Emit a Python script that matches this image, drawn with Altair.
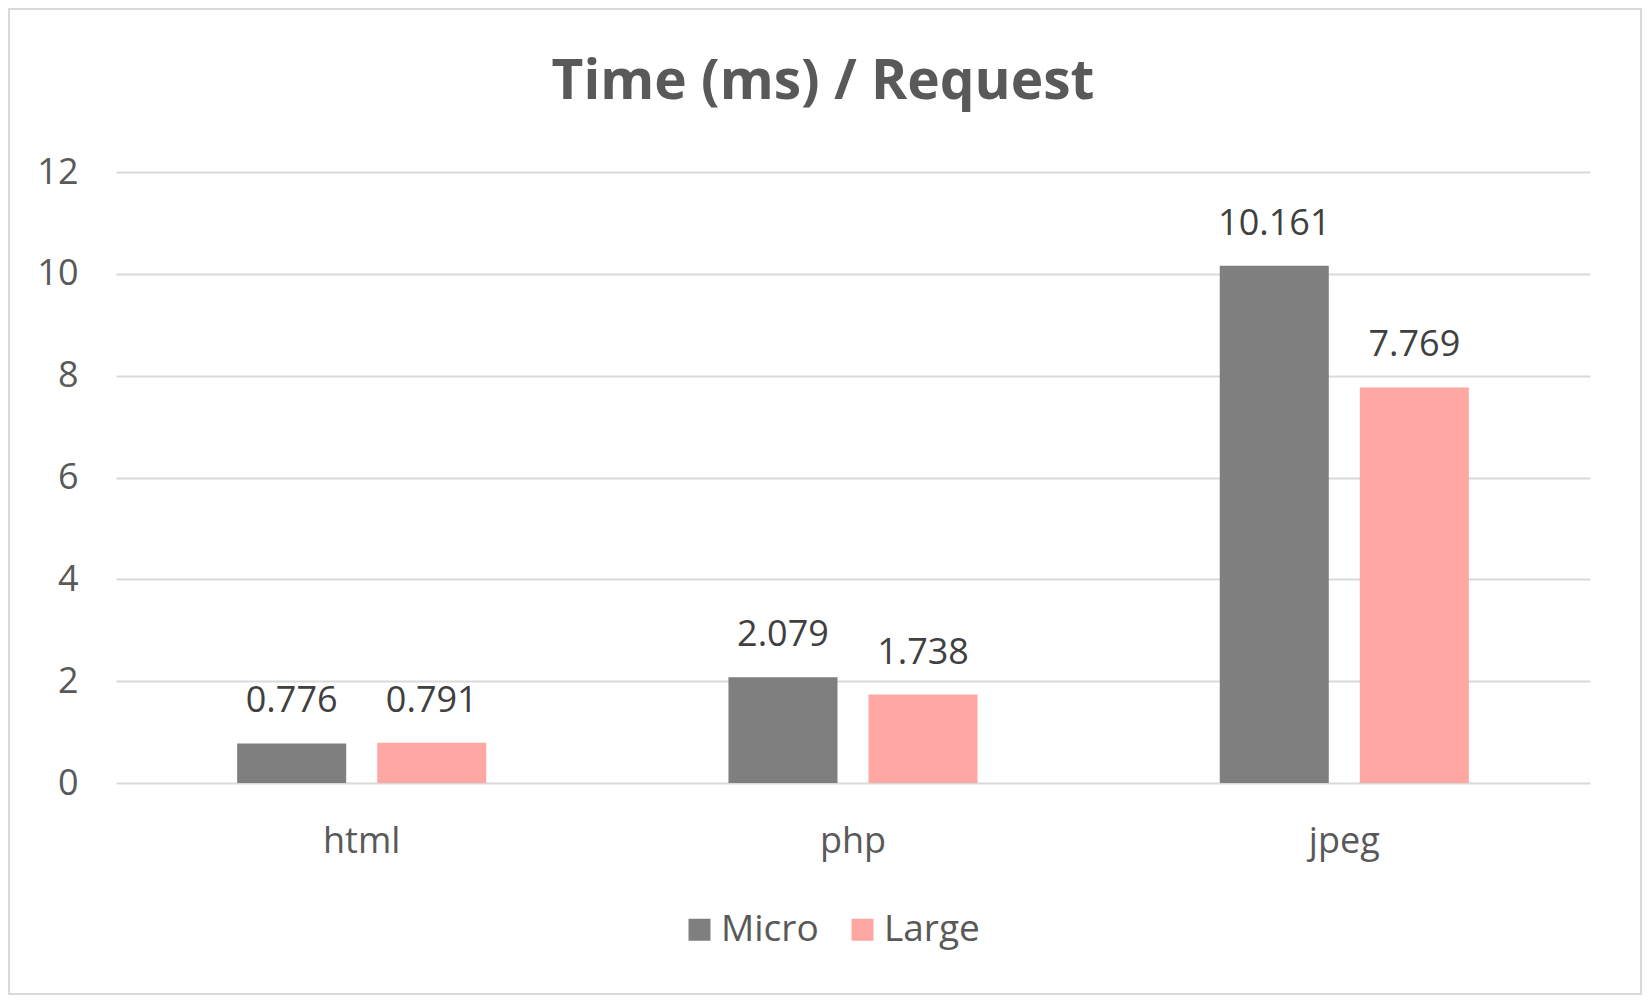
import altair as alt
import pandas as pd

categories = ["html", "php", "jpeg"]
series = ["Micro", "Large"]
micro = [0.776, 2.079, 10.161]
large = [0.791, 1.738, 7.769]
colors = ["#7f7f7f", "#ffa7a3"]
y_ticks = [0, 2, 4, 6, 8, 10, 12]

rows = []
for c, m, l in zip(categories, micro, large):
    rows.append({"type": c, "series": "Micro", "value": m, "label": f"{m:.3f}"})
    rows.append({"type": c, "series": "Large", "value": l, "label": f"{l:.3f}"})
df = pd.DataFrame(rows)

FONT = "Open Sans"
W, H = 1474, 611

x = alt.X(
    "type:N", sort=categories, title=None,
    scale=alt.Scale(paddingInner=0.493, paddingOuter=0.2466),
    axis=alt.Axis(labelAngle=0, labelFontSize=36, labelColor="#595959", labelFont=FONT,
                  ticks=False, domain=False, labelPadding=69, labelBaseline="alphabetic",
                  grid=False),
)
xo = alt.XOffset("series:N", sort=series, scale=alt.Scale(paddingInner=0.2215, paddingOuter=0))
y = alt.Y(
    "value:Q", title=None,
    scale=alt.Scale(domain=[0, 12], nice=False),
    axis=alt.Axis(values=y_ticks, grid=True, gridColor="#d9d9d9", gridWidth=2, ticks=False,
                  domain=False, labelFontSize=36, labelColor="#595959", labelFont=FONT,
                  labelPadding=38),
)

frame = alt.Chart(pd.DataFrame({"a": [0]})).mark_rect(
    fill="transparent", stroke="#d9d9d9", strokeWidth=2
).encode(x=alt.value(-107), x2=alt.value(1525), y=alt.value(-163), y2=alt.value(822))

bars = alt.Chart(df).mark_bar().encode(
    x=x, xOffset=xo, y=y,
    color=alt.Color(
        "series:N", sort=series,
        scale=alt.Scale(domain=series, range=colors),
        legend=alt.Legend(title=None, orient="none", legendX=565, legendY=739,
                          direction="horizontal", symbolType="square", symbolSize=484,
                          symbolStrokeWidth=0, symbolOpacity=1, labelFontSize=37,
                          labelFont=FONT, labelColor="#595959", labelOffset=3,
                          columnPadding=25, padding=0),
    ),
)

labels = alt.Chart(df).mark_text(
    baseline="alphabetic", dy=-31, fontSize=36, font=FONT, color="#404040"
).encode(x=x, xOffset=xo, y=y, text="label:N")

chart = alt.layer(frame, bars, labels).properties(
    width=W, height=H,
    padding={"left": 108, "top": 164, "right": 52, "bottom": 212},
    autosize=alt.AutoSizeParams(type="none"),
    title=alt.Title("Time (ms) / Request", fontSize=55, font=FONT, fontWeight="bold",
                    color="#595959", anchor="middle", frame="group", dx=-30, offset=-146,
                    baseline="alphabetic"),
    background="white",
).configure_view(strokeWidth=0)

chart.save("out.html", embed_options={"renderer": "svg", "actions": False})
